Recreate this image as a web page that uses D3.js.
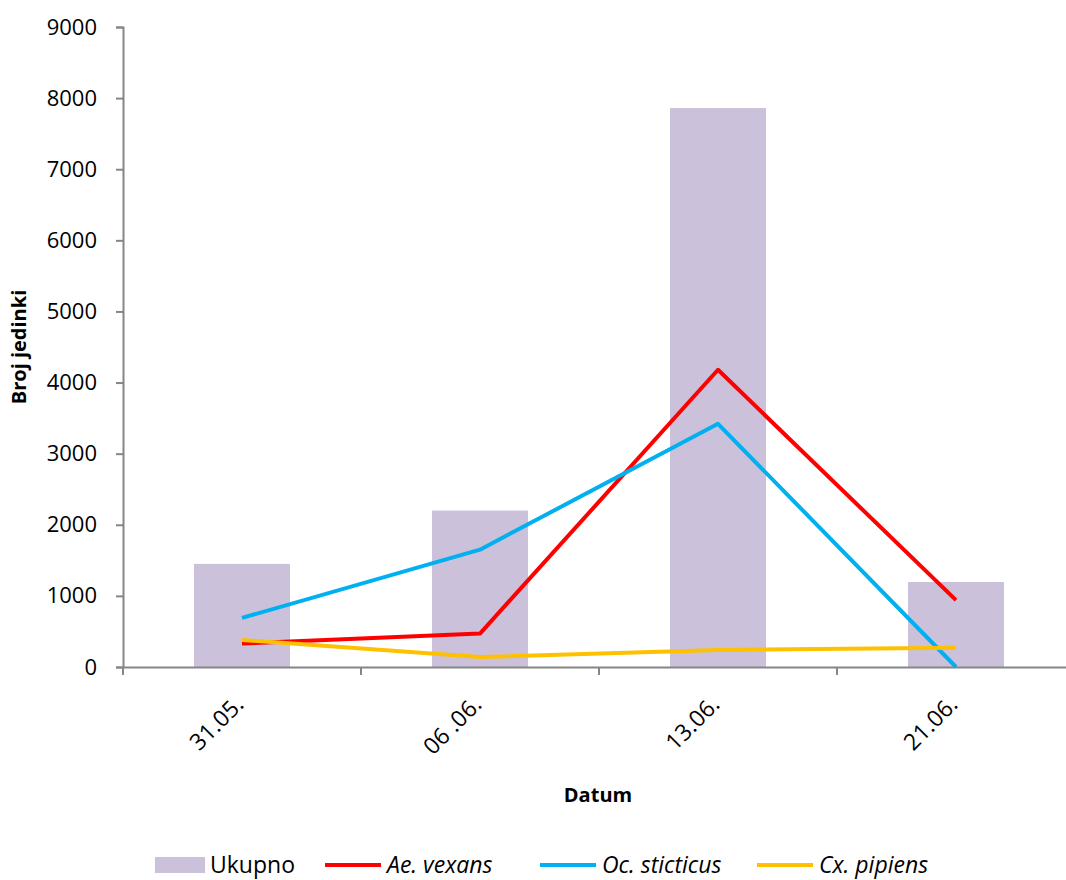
<!DOCTYPE html>
<html><head><meta charset="utf-8">
<script src="https://cdn.jsdelivr.net/npm/d3@7"></script>
<style>body{margin:0;background:#fff}text{font-family:"Open Sans",sans-serif}</style>
</head><body><svg id="c" width="1066" height="880"></svg>
<script>
const categories = ["31.05.", "06 .06.", "13.06.", "21.06."];
const ukupno = [1450, 2200, 7860, 1195];
const aeVexans = [330, 470, 4180, 940];
const ocSticticus = [690, 1650, 3420, 0];
const cxPipiens = [380, 140, 240, 270];
const yTicks = [0, 1000, 2000, 3000, 4000, 5000, 6000, 7000, 8000, 9000];
const lineSeries = [
  {name: "Ae. vexans", values: aeVexans, color: "#FF0000"},
  {name: "Oc. sticticus", values: ocSticticus, color: "#00B0F0"},
  {name: "Cx. pipiens", values: cxPipiens, color: "#FFC000"}
];
const barColor = "#CBC1DB", axisColor = "#868686";

const svg = d3.select("#c");
const L = 123, R = 1075, T = 27, B = 667;
const x = d3.scaleBand().domain(categories).range([L, R]).paddingInner(0).paddingOuter(0);
const y = d3.scaleLinear().domain([0, 9000]).range([B, T]);
const barW = 96;

// bars
svg.append("g").selectAll("rect").data(ukupno).join("rect")
  .attr("x", (d, i) => x(categories[i]) + x.bandwidth() / 2 - barW / 2)
  .attr("y", d => y(d)).attr("width", barW).attr("height", d => B - y(d))
  .attr("fill", barColor);

// y axis
const ya = svg.append("g").attr("transform", `translate(${L},0)`)
  .call(d3.axisLeft(y).tickValues(yTicks).tickSize(7).tickPadding(19).tickFormat(d3.format("d")));
ya.select(".domain").attr("stroke", axisColor).attr("stroke-width", 2);
ya.selectAll(".tick line").attr("stroke", axisColor).attr("stroke-width", 2);
ya.selectAll(".tick text").attr("font-size", 22).attr("fill", "#000").attr("font-family", "Open Sans");

// x axis
const xa = svg.append("g").attr("transform", `translate(0,${B})`)
  .call(d3.axisBottom(x).tickSize(0).tickFormat(""));
xa.select(".domain").attr("stroke", axisColor).attr("stroke-width", 2);
const bounds = categories.map(c => x(c)).concat([R]);
svg.append("g").selectAll("line").data(bounds).join("line")
  .attr("x1", d => d).attr("x2", d => d).attr("y1", B).attr("y2", B + 8)
  .attr("stroke", axisColor).attr("stroke-width", 2);
svg.append("g").selectAll("text").data(categories).join("text")
  .attr("transform", d => `translate(${x(d) + x.bandwidth() / 2 + 3},${B + 39}) rotate(-45)`)
  .attr("text-anchor", "end").attr("font-size", 23).attr("fill", "#000").text(d => d);

// lines
const line = d3.line().x((d, i) => x(categories[i]) + x.bandwidth() / 2).y(d => y(d));
svg.append("g").selectAll("path").data(lineSeries).join("path")
  .attr("d", s => line(s.values)).attr("fill", "none")
  .attr("stroke", s => s.color).attr("stroke-width", 4).attr("stroke-linejoin", "round");

// axis titles
svg.append("text").attr("transform", "translate(26,347) rotate(-90)")
  .attr("text-anchor", "middle").attr("font-size", 20).attr("font-weight", "bold").text("Broj jedinki");
svg.append("text").attr("x", 598).attr("y", 802)
  .attr("text-anchor", "middle").attr("font-size", 20).attr("font-weight", "bold").text("Datum");

// legend
const lg = svg.append("g");
const ly = 865;
lg.append("rect").attr("x", 155).attr("y", ly - 8).attr("width", 50).attr("height", 16).attr("fill", barColor);
lg.append("text").attr("x", 210).attr("y", ly + 8).attr("font-size", 23).text("Ukupno");
const lx = [325, 540, 757];
lineSeries.forEach((s, i) => {
  lg.append("line").attr("x1", lx[i]).attr("x2", lx[i] + 56).attr("y1", ly).attr("y2", ly)
    .attr("stroke", s.color).attr("stroke-width", 4);
  lg.append("text").attr("x", lx[i] + 62).attr("y", ly + 8).attr("font-size", 23)
    .attr("font-style", "italic").text(s.name);
});
</script></body></html>
